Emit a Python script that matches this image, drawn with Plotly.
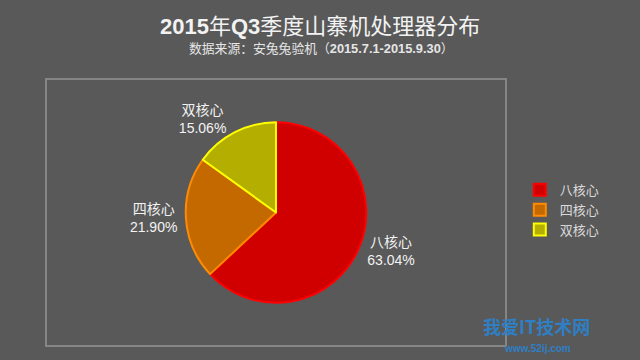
import plotly.graph_objects as go

labels = ["八核心", "四核心", "双核心"]
values = [63.04, 21.90, 15.06]
fill_colors = ["#d00000", "#c46800", "#b4ae00"]
line_colors = ["#ff0000", "#ff8c00", "#ffff00"]

title_main = "<b>2015</b>年<b>Q3</b>季度山寨机处理器分布"
subtitle = "数据来源：安兔兔验机（<b>2015.7.1-2015.9.30</b>）"
watermark = "<b>我爱IT技术网</b>"
watermark_url = "<b>www.52ij.com</b>"

FONT = "Liberation Sans, Arial, Noto Sans CJK SC"

fig = go.Figure()
fig.add_trace(go.Pie(
    labels=labels,
    values=values,
    sort=False,
    direction="clockwise",
    rotation=0,
    marker=dict(colors=fill_colors, line=dict(color=line_colors, width=2)),
    textposition="outside",
    texttemplate="%{label}<br>%{percent:.2%}",
    textfont=dict(color="#f2f2f2", size=14, family=FONT),
    domain=dict(x=[0.2, 0.8], y=[0.162, 0.838]),
    showlegend=True,
    hoverinfo="label+percent",
))

fig.update_layout(
    width=640, height=360,
    paper_bgcolor="#595959",
    plot_bgcolor="#595959",
    margin=dict(l=46, r=134, t=79, b=14),
    legend=dict(
        x=1.03, xanchor="left", y=0.51, yanchor="middle",
        font=dict(size=13, color="#d9d9d9", family=FONT),
        bgcolor="rgba(0,0,0,0)",
        itemwidth=30,
    ),
    shapes=[
        dict(type="rect", xref="paper", yref="paper", x0=0, x1=1, y0=0, y1=1,
             line=dict(color="#858585", width=2), fillcolor="rgba(0,0,0,0)", layer="below"),
    ],
    annotations=[
        dict(text=title_main, x=320, y=27, xref="paper", yref="paper",
             showarrow=False, font=dict(size=22, color="#f2f2f2", family=FONT),
             xanchor="center", yanchor="middle"),
        dict(text=subtitle, x=321, y=49, xref="paper", yref="paper",
             showarrow=False, font=dict(size=12.8, color="#e6e6e6", family=FONT),
             xanchor="center", yanchor="middle"),
        dict(text=watermark, x=536, y=326, xref="paper", yref="paper",
             showarrow=False, font=dict(size=18, color="#2f7fc4", family="Noto Sans CJK SC"),
             xanchor="center", yanchor="middle"),
        dict(text=watermark_url, x=537, y=348, xref="paper", yref="paper",
             showarrow=False, font=dict(size=10, color="#2f7fc4", family=FONT),
             xanchor="center", yanchor="middle"),
    ],
)

# convert pixel positions of the text annotations into paper coordinates
L, R, T, B, W, H = 46, 134, 79, 14, 640, 360
pw, ph = W - L - R, H - T - B
for a in fig.layout.annotations:
    a.x = (a.x - L) / pw
    a.y = (H - B - a.y) / ph

fig.write_html("out.html")
